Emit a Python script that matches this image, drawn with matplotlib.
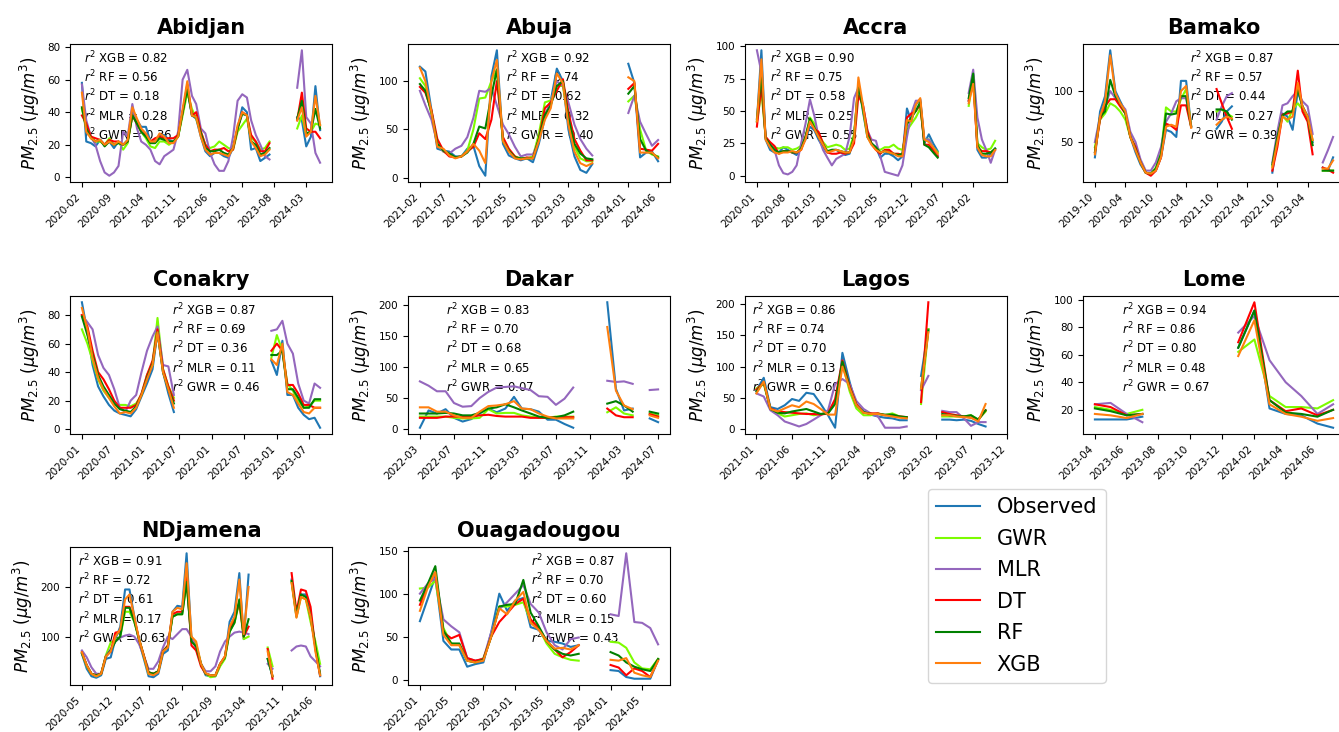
import numpy as np
import pandas as pd
import matplotlib
matplotlib.use("Agg")
import matplotlib.pyplot as plt
from matplotlib.ticker import MaxNLocator

nan = np.nan

# ---------------- data (monthly PM2.5, nan = no data) ----------------
ABIDJAN_START = "2020-02"
ABIDJAN_OBS = [58, 22, 21, 19, 23, 20, 22, 18, 22, 20, 23, 40, 35, 31, 31, 22, 22, 26, 26, 23,
               22, 25, 40, 55, 38, 36, 25, 16, 13, 15, 15, 13, 12, 18, 30, 43, 40, 17, 18, 10,
               12, 14] + [nan] * 5 + [37, 35, 19, 25, 56, 29]
ABIDJAN_GWR = [42, 30, 25, 22, 22, 20, 24, 20, 22, 17, 21, 38, 35, 28, 24, 19, 18, 22, 22, 20,
               22, 25, 38, 52, 42, 36, 28, 20, 18, 19, 22, 20, 18, 17, 28, 32, 36, 24, 22, 17,
               18, 22] + [nan] * 5 + [30, 38, 26, 28, 33, 32]
ABIDJAN_MLR = [57, 35, 25, 20, 10, 3, 1, 3, 7, 28, 25, 45, 30, 22, 20, 17, 10, 8, 13, 15,
               17, 28, 60, 66, 50, 45, 30, 27, 15, 8, 4, 4, 10, 25, 47, 51, 49, 35, 26, 20,
               13, 11] + [nan] * 5 + [55, 78, 37, 33, 15, 9]
ABIDJAN_DT = [38, 33, 25, 24, 23, 20, 23, 22, 22, 20, 22, 38, 33, 28, 26, 22, 24, 25, 24, 24,
              24, 26, 40, 57, 38, 40, 28, 20, 16, 17, 17, 18, 16, 17, 30, 40, 38, 26, 22, 16,
              16, 21] + [nan] * 5 + [35, 52, 30, 28, 28, 24]
ABIDJAN_RF = [43, 30, 24, 22, 23, 19, 22, 20, 21, 20, 22, 38, 33, 28, 25, 21, 21, 24, 23, 22,
              22, 25, 40, 54, 38, 37, 27, 18, 16, 16, 17, 15, 14, 18, 30, 39, 38, 22, 20, 14,
              15, 18] + [nan] * 5 + [36, 47, 27, 28, 42, 30]
ABIDJAN_XGB = [52, 28, 24, 22, 23, 20, 22, 20, 22, 20, 23, 43, 36, 30, 27, 22, 22, 27, 25, 21,
               21, 25, 42, 59, 38, 37, 25, 17, 14, 15, 15, 14, 13, 18, 32, 40, 38, 22, 18, 13,
               14, 17] + [nan] * 5 + [35, 43, 25, 28, 50, 32]

ABUJA_START = "2021-02"
ABUJA_OBS = [115, 110, 70, 30, 28, 27, 22, 22, 30, 33, 12, 2, 105, 132, 35, 23, 20, 18, 20, 16,
             35, 62, 80, 113, 100, 50, 22, 8, 5, 14] + [nan] * 5 + [118, 98, 21, 26, 27, 17]
ABUJA_GWR = [103, 95, 65, 35, 27, 24, 21, 22, 28, 50, 82, 83, 100, 112, 38, 28, 22, 20, 20, 22,
             45, 78, 80, 95, 95, 60, 32, 20, 17, 17] + [nan] * 5 + [79, 85, 50, 28, 24, 22]
ABUJA_MLR = [90, 75, 60, 35, 27, 25, 30, 33, 42, 62, 90, 89, 93, 75, 55, 45, 32, 22, 24, 24,
             38, 65, 78, 100, 95, 78, 55, 40, 30, 23] + [nan] * 5 + [67, 85, 58, 45, 33, 39]
ABUJA_DT = [94, 88, 70, 40, 28, 22, 21, 22, 27, 32, 46, 40, 60, 100, 42, 30, 22, 19, 21, 20,
            40, 72, 78, 90, 102, 68, 40, 28, 18, 18] + [nan] * 5 + [92, 98, 30, 29, 28, 35]
ABUJA_RF = [97, 90, 68, 35, 28, 25, 21, 22, 26, 35, 53, 51, 85, 112, 38, 28, 21, 20, 20, 20,
            40, 65, 75, 95, 100, 62, 35, 25, 20, 19] + [nan] * 5 + [87, 95, 40, 28, 25, 21]
ABUJA_XGB = [114, 100, 68, 32, 30, 23, 20, 22, 27, 35, 28, 15, 100, 122, 38, 27, 20, 19, 20, 20,
             38, 60, 72, 108, 98, 55, 27, 15, 12, 15] + [nan] * 5 + [104, 100, 26, 26, 26, 20]

ACCRA_START = "2020-01"
ACCRA_OBS = [42, 97, 28, 20, 18, 18, 22, 20, 18, 16, 22, 28, 38, 35, 28, 22, 18, 20, 20, 18,
             16, 17, 30, 72, 50, 30, 25, 22, 14, 17, 17, 15, 12, 15, 52, 42, 55, 59, 25, 32,
             25, 19] + [nan] * 6 + [58, 78, 20, 14, 14, 17, 21]
ACCRA_GWR = [42, 65, 30, 23, 22, 21, 22, 22, 20, 21, 23, 30, 45, 40, 32, 26, 22, 23, 24, 23,
             20, 21, 32, 70, 52, 30, 25, 21, 20, 22, 22, 24, 21, 20, 35, 40, 45, 52, 28, 28,
             22, 18] + [nan] * 6 + [54, 77, 25, 22, 20, 21, 27]
ACCRA_MLR = [97, 80, 30, 25, 20, 8, 2, 1, 3, 8, 25, 40, 59, 46, 30, 20, 14, 8, 13, 15,
             17, 30, 60, 68, 55, 35, 28, 27, 15, 3, 2, 1, 0, 8, 30, 48, 58, 58, 28, 28,
             22, 16] + [nan] * 6 + [64, 82, 45, 28, 20, 10, 20]
ACCRA_DT = [38, 70, 30, 26, 23, 17, 19, 19, 18, 18, 20, 30, 42, 36, 34, 25, 18, 17, 17, 18,
            17, 18, 25, 62, 55, 35, 25, 20, 17, 20, 20, 17, 17, 16, 45, 48, 50, 55, 24, 24,
            20, 15] + [nan] * 6 + [58, 74, 22, 19, 19, 18, 20]
ACCRA_RF = [44, 78, 29, 24, 20, 18, 19, 19, 18, 18, 21, 30, 44, 37, 30, 24, 19, 20, 20, 19,
            18, 18, 30, 70, 52, 32, 25, 22, 18, 19, 18, 17, 16, 17, 40, 45, 50, 57, 24, 22,
            18, 14] + [nan] * 6 + [60, 79, 24, 17, 17, 18, 21]
ACCRA_XGB = [42, 90, 28, 22, 18, 17, 18, 18, 19, 18, 20, 28, 42, 36, 30, 24, 18, 19, 20, 19,
             18, 18, 28, 76, 55, 30, 24, 20, 18, 19, 18, 17, 15, 15, 43, 42, 55, 60, 28, 26,
             22, 17] + [nan] * 6 + [56, 71, 22, 16, 15, 15, 20]

BAMAKO_START = "2019-10"
BAMAKO_OBS = ([35, 80, 95, 140, 100, 90, 80, 55, 40, 28, 20, 18, 22, 35, 62, 60, 55, 110, 110, 66]
              + [nan] * 4 + [63, 70, 80, 85] + [nan] * 7
              + [20, 55, 78, 75, 62, 100, 85, 75, 50] + [nan] + [25, 22, 35])
BAMAKO_GWR = ([45, 72, 78, 88, 85, 80, 72, 55, 45, 30, 20, 19, 25, 40, 84, 80, 80, 92, 102, 66]
              + [nan] * 4 + [80, 82, 78, 75] + [nan] * 7
              + [26, 55, 76, 70, 82, 88, 82, 72, 52] + [nan] + [22, 22, 22])
BAMAKO_MLR = ([50, 75, 85, 100, 93, 88, 82, 60, 50, 33, 22, 22, 30, 45, 70, 78, 90, 93, 93, 66]
              + [nan] * 4 + [72, 85, 95, 98] + [nan] * 7
              + [30, 60, 86, 88, 95, 100, 90, 85, 58] + [nan] + [30, 42, 55])
BAMAKO_DT = ([40, 72, 85, 92, 92, 85, 78, 55, 45, 30, 20, 17, 22, 35, 68, 66, 62, 86, 86, 65]
             + [nan] * 4 + [102, 88, 75, 63] + [nan] * 7
             + [22, 45, 77, 78, 80, 120, 80, 70, 38] + [nan] + [25, 23, 20])
BAMAKO_RF = ([40, 75, 80, 111, 95, 88, 78, 55, 43, 30, 20, 19, 24, 38, 78, 77, 78, 95, 95, 65]
             + [nan] * 4 + [82, 82, 80, 72] + [nan] * 7
             + [28, 55, 76, 80, 80, 102, 85, 75, 47] + [nan] + [22, 22, 22])
BAMAKO_XGB = ([38, 75, 90, 135, 98, 88, 80, 55, 42, 30, 20, 19, 22, 35, 65, 67, 65, 100, 105, 64]
              + [nan] * 4 + [67, 72, 75, 73] + [nan] * 7
              + [25, 50, 75, 72, 75, 108, 85, 75, 52] + [nan] + [24, 24, 32])

CONAKRY_START = "2020-01"
CONAKRY_OBS = ([89, 68, 45, 30, 23, 17, 13, 11, 10, 9, 14, 23, 32, 42, 68, 40, 25, 12]
               + [nan] * 17 + [48, 38, 62, 24, 24, 15, 10, 7, 8, 1])
CONAKRY_GWR = ([70, 60, 48, 35, 27, 22, 17, 17, 17, 16, 18, 24, 38, 45, 78, 42, 30, 22]
               + [nan] * 17 + [50, 66, 55, 32, 27, 20, 15, 16, 20, 20])
CONAKRY_MLR = ([80, 75, 70, 52, 43, 38, 28, 15, 12, 20, 24, 40, 55, 65, 72, 45, 44, 24]
               + [nan] * 17 + [69, 70, 76, 60, 53, 32, 20, 18, 32, 29])
CONAKRY_DT = ([80, 72, 55, 40, 35, 28, 20, 15, 15, 15, 17, 25, 38, 48, 70, 42, 30, 20]
              + [nan] * 17 + [55, 60, 55, 31, 31, 25, 17, 17, 15, 15])
CONAKRY_RF = ([79, 66, 52, 38, 30, 24, 18, 14, 13, 12, 16, 24, 36, 46, 68, 40, 28, 18]
              + [nan] * 17 + [52, 52, 55, 28, 28, 22, 15, 15, 21, 21])
CONAKRY_XGB = ([85, 70, 50, 36, 28, 22, 16, 11, 12, 11, 15, 24, 35, 45, 68, 40, 28, 15]
               + [nan] * 17 + [49, 45, 60, 26, 24, 18, 12, 11, 15, 15])

DAKAR_START = "2022-03"
DAKAR_OBS = ([2, 30, 25, 32, 18, 12, 16, 25, 33, 27, 33, 52, 33, 32, 28, 15, 15, 8, 2]
             + [nan] * 3 + [205, 65, 30, 33] + [nan] + [17, 11])
DAKAR_GWR = ([20, 20, 20, 20, 18, 17, 17, 18, 32, 25, 26, 26, 22, 20, 18, 18, 20, 20, 20]
             + [nan] * 3 + [27, 35, 25, 22] + [nan] + [25, 22])
DAKAR_MLR = ([77, 70, 61, 61, 42, 36, 37, 50, 60, 67, 68, 69, 66, 63, 53, 52, 39, 49, 67]
             + [nan] * 3 + [78, 76, 77, 73] + [nan] + [63, 64])
DAKAR_DT = ([18, 18, 18, 20, 20, 20, 20, 22, 23, 21, 20, 20, 20, 18, 18, 18, 19, 19, 19]
            + [nan] * 3 + [33, 22, 19, 19] + [nan] + [24, 20])
DAKAR_RF = ([25, 25, 25, 26, 25, 22, 22, 26, 33, 35, 40, 35, 30, 25, 20, 18, 19, 22, 28]
            + [nan] * 3 + [41, 45, 38, 28] + [nan] + [28, 25])
DAKAR_XGB = ([35, 35, 28, 28, 22, 18, 18, 28, 37, 38, 40, 45, 33, 32, 25, 20, 17, 17, 17]
             + [nan] * 3 + [165, 62, 38, 32] + [nan] + [22, 18])

LAGOS_START = "2021-01"
LAGOS_OBS = ([62, 82, 35, 32, 38, 48, 45, 58, 56, 40, 22, 2, 122, 75, 38, 28, 23, 20, 18, 17, 14, 14]
             + [nan] + [85, 160] + [nan] + [15, 15, 14, 15, 13, 8, 4] + [nan] * 4)
LAGOS_GWR = ([65, 72, 33, 25, 20, 22, 24, 25, 22, 24, 26, 42, 105, 60, 33, 22, 22, 25, 22, 25, 20, 18]
             + [nan] + [40, 160] + [nan] + [20, 20, 20, 20, 22, 15, 28] + [nan] * 4)
LAGOS_MLR = ([57, 52, 30, 22, 12, 8, 4, 8, 15, 22, 30, 72, 80, 72, 45, 32, 25, 20, 2, 2, 2, 4]
             + [nan] + [62, 85] + [nan] + [29, 27, 27, 17, 5, 11, 11] + [nan] * 4)
LAGOS_DT = ([63, 75, 33, 28, 27, 26, 25, 24, 24, 23, 25, 48, 110, 68, 40, 26, 25, 25, 22, 22, 20, 19]
            + [nan] + [43, 203] + [nan] + [27, 24, 22, 20, 18, 15, 30] + [nan] * 4)
LAGOS_RF = ([60, 75, 32, 26, 25, 28, 30, 32, 28, 24, 25, 40, 108, 66, 38, 27, 24, 24, 23, 23, 20, 19]
            + [nan] + [65, 158] + [nan] + [24, 22, 21, 20, 22, 15, 30] + [nan] * 4)
LAGOS_XGB = ([57, 76, 32, 28, 33, 38, 35, 44, 40, 32, 23, 23, 100, 65, 38, 26, 24, 24, 22, 20, 18, 17]
             + [nan] + [65, 155] + [nan] + [22, 22, 20, 19, 18, 12, 40] + [nan] * 4)

LOME_START = "2023-04"
LOME_OBS = [13, 13, 13, 15] + [nan] * 5 + [65, 92, 21, 17, 16, 10, 7]
LOME_GWR = [22, 20, 17, 20] + [nan] * 5 + [62, 71, 30, 22, 22, 21, 27]
LOME_MLR = [24, 25, 17, 11] + [nan] * 5 + [76, 88, 56, 40, 30, 17, 24]
LOME_DT = [24, 22, 16, 17] + [nan] * 5 + [69, 98, 27, 19, 21, 16, 20]
LOME_RF = [21, 19, 16, 17] + [nan] * 5 + [65, 92, 27, 18, 17, 15, 20]
LOME_XGB = [17, 16, 14, 17] + [nan] * 5 + [59, 85, 24, 17, 15, 12, 14]

NDJAMENA_START = "2020-05"
NDJAMENA_OBS = ([65, 35, 20, 17, 22, 55, 58, 95, 120, 195, 195, 140, 90, 55, 20, 18, 25, 65,
                 72, 150, 162, 160, 268, 95, 80, 45, 22, 20, 20, 42, 58, 130, 150, 228, 95, 225]
                + [nan] * 3 + [55, 20] + [nan] * 3 + [215, 140, 185, 185, 145, 80, 20])
NDJAMENA_GWR = ([68, 40, 25, 20, 25, 62, 88, 92, 100, 150, 150, 130, 95, 60, 25, 25, 30, 72,
                 80, 140, 145, 145, 210, 95, 85, 45, 25, 18, 20, 40, 55, 110, 128, 170, 95, 100]
                + [nan] * 3 + [78, 40] + [nan] * 3 + [210, 140, 180, 175, 130, 90, 45])
NDJAMENA_MLR = ([72, 58, 38, 25, 25, 60, 75, 90, 98, 102, 104, 100, 85, 60, 35, 35, 50, 78,
                 100, 95, 105, 115, 115, 100, 75, 45, 30, 30, 40, 70, 90, 100, 108, 110, 108, 105]
                + [nan] * 3 + [45, 35] + [nan] * 3 + [72, 80, 82, 80, 60, 50, 40])
NDJAMENA_DT = ([68, 42, 25, 22, 25, 60, 70, 108, 110, 160, 160, 135, 95, 62, 28, 25, 30, 70,
                82, 145, 150, 150, 220, 82, 72, 40, 25, 22, 22, 45, 60, 115, 135, 170, 100, 120]
               + [nan] * 3 + [75, 15] + [nan] * 3 + [228, 150, 195, 192, 160, 75, 22])
NDJAMENA_RF = ([66, 42, 25, 22, 25, 60, 72, 90, 100, 158, 158, 130, 95, 60, 28, 25, 30, 70,
                80, 140, 145, 145, 210, 90, 80, 45, 25, 22, 22, 45, 58, 110, 128, 175, 100, 135]
               + [nan] * 3 + [55, 20] + [nan] * 3 + [212, 145, 185, 180, 140, 80, 25])
NDJAMENA_XGB = ([68, 42, 25, 20, 25, 60, 70, 100, 115, 175, 185, 140, 95, 60, 25, 22, 28, 70,
                 78, 150, 158, 155, 248, 100, 90, 45, 26, 22, 22, 45, 60, 120, 140, 215, 105, 200]
                + [nan] * 3 + [70, 20] + [nan] * 3 + [208, 138, 180, 175, 140, 70, 22])

OUAGA_START = "2022-01"
OUAGA_OBS = ([68, 95, 120, 45, 35, 35, 15, 18, 20, 55, 100, 80, 92, 95, 61, 58, 45, 44, 42, 38, 40]
             + [nan] * 3 + [11, 10, 3, 1, 1, 1, 23])
OUAGA_GWR = ([106, 107, 115, 60, 42, 40, 22, 20, 25, 50, 85, 85, 87, 90, 68, 60, 42, 30, 26, 23, 22]
             + [nan] * 3 + [44, 43, 37, 20, 13, 12, 24])
OUAGA_MLR = ([100, 112, 118, 70, 62, 55, 25, 22, 24, 55, 82, 90, 100, 110, 88, 78, 55, 40, 35, 47, 49]
             + [nan] * 3 + [76, 74, 147, 67, 66, 60, 41])
OUAGA_DT = ([87, 110, 125, 55, 48, 52, 25, 22, 24, 50, 67, 77, 88, 94, 70, 60, 45, 35, 26, 32, 40]
            + [nan] * 3 + [17, 14, 5, 13, 10, 3, 23])
OUAGA_RF = ([92, 112, 132, 57, 42, 42, 22, 20, 23, 50, 85, 87, 88, 116, 78, 62, 45, 35, 30, 28, 30]
            + [nan] * 3 + [32, 28, 20, 15, 12, 10, 24])
OUAGA_XGB = ([80, 108, 125, 52, 40, 40, 22, 20, 22, 50, 83, 76, 92, 102, 66, 58, 45, 36, 37, 35, 40]
             + [nan] * 3 + [23, 22, 25, 8, 5, 3, 22])

# r2 scores in order XGB, RF, DT, MLR, GWR
R2 = {
    "Abidjan": [0.82, 0.56, 0.18, 0.28, 0.36],
    "Abuja": [0.92, 0.74, 0.62, 0.32, 0.40],
    "Accra": [0.90, 0.75, 0.58, 0.25, 0.55],
    "Bamako": [0.87, 0.57, 0.44, 0.27, 0.39],
    "Conakry": [0.87, 0.69, 0.36, 0.11, 0.46],
    "Dakar": [0.83, 0.70, 0.68, 0.65, 0.07],
    "Lagos": [0.86, 0.74, 0.70, 0.13, 0.60],
    "Lome": [0.94, 0.86, 0.80, 0.48, 0.67],
    "NDjamena": [0.91, 0.72, 0.61, 0.17, 0.63],
    "Ouagadougou": [0.87, 0.70, 0.60, 0.15, 0.43],
}

cities = [
    ("Abidjan", ABIDJAN_START, [ABIDJAN_OBS, ABIDJAN_GWR, ABIDJAN_MLR, ABIDJAN_DT, ABIDJAN_RF, ABIDJAN_XGB]),
    ("Abuja", ABUJA_START, [ABUJA_OBS, ABUJA_GWR, ABUJA_MLR, ABUJA_DT, ABUJA_RF, ABUJA_XGB]),
    ("Accra", ACCRA_START, [ACCRA_OBS, ACCRA_GWR, ACCRA_MLR, ACCRA_DT, ACCRA_RF, ACCRA_XGB]),
    ("Bamako", BAMAKO_START, [BAMAKO_OBS, BAMAKO_GWR, BAMAKO_MLR, BAMAKO_DT, BAMAKO_RF, BAMAKO_XGB]),
    ("Conakry", CONAKRY_START, [CONAKRY_OBS, CONAKRY_GWR, CONAKRY_MLR, CONAKRY_DT, CONAKRY_RF, CONAKRY_XGB]),
    ("Dakar", DAKAR_START, [DAKAR_OBS, DAKAR_GWR, DAKAR_MLR, DAKAR_DT, DAKAR_RF, DAKAR_XGB]),
    ("Lagos", LAGOS_START, [LAGOS_OBS, LAGOS_GWR, LAGOS_MLR, LAGOS_DT, LAGOS_RF, LAGOS_XGB]),
    ("Lome", LOME_START, [LOME_OBS, LOME_GWR, LOME_MLR, LOME_DT, LOME_RF, LOME_XGB]),
    ("NDjamena", NDJAMENA_START, [NDJAMENA_OBS, NDJAMENA_GWR, NDJAMENA_MLR, NDJAMENA_DT, NDJAMENA_RF, NDJAMENA_XGB]),
    ("Ouagadougou", OUAGA_START, [OUAGA_OBS, OUAGA_GWR, OUAGA_MLR, OUAGA_DT, OUAGA_RF, OUAGA_XGB]),
]

series_names = ["Observed", "GWR", "MLR", "DT", "RF", "XGB"]
series_colors = ["#1f77b4", "lawngreen", "#9467bd", "red", "green", "#ff7f0e"]

# layout: tick step (months), x of the r2 text (axes fraction), y tick density
tick_step = {"Abidjan": 7, "Abuja": 5, "Accra": 7, "Bamako": 6, "Conakry": 6,
             "Dakar": 4, "Lagos": 5, "Lome": 2, "NDjamena": 7, "Ouagadougou": 4}
text_x = {"Abidjan": 0.055, "Abuja": 0.375, "Accra": 0.095, "Bamako": 0.41, "Conakry": 0.39,
          "Dakar": 0.145, "Lagos": 0.025, "Lome": 0.15, "NDjamena": 0.03, "Ouagadougou": 0.47}
y_bins = {"Lome": 6}

W, H = 1339, 732
fig = plt.figure(figsize=(W / 100, H / 100), dpi=100)
lefts = [70, 408, 745, 1083]
tops = [44, 296, 547]
aw, ah = 262, 138

axes = []
for k, (city, start, values) in enumerate(cities):
    r, c = divmod(k, 4)
    ax = fig.add_axes([lefts[c] / W, 1 - (tops[r] + ah) / H, aw / W, ah / H])
    axes.append(ax)
    dates = pd.date_range(start, periods=len(values[0]), freq="MS")
    for name, col, vals in zip(series_names, series_colors, values):
        ax.plot(dates, vals, color=col, lw=1.5, label=name)
    ticks = dates[::tick_step[city]]
    ax.set_xticks(ticks)
    ax.set_xticklabels([d.strftime("%Y-%m") for d in ticks], rotation=45, ha="right", fontsize=7.5)
    ax.yaxis.set_major_locator(MaxNLocator(nbins=y_bins.get(city, 5), steps=[1, 2, 2.5, 5, 10]))
    ax.tick_params(axis="y", labelsize=7.5)
    ax.set_title(city, fontsize=15, fontweight="bold", pad=7)
    ax.set_ylabel(r"$PM_{2.5}$ ($\mu g/m^3$)", fontsize=12)
    sc = R2[city]
    txt = "\n".join([r"$r^2$ XGB = %.2f" % sc[0], r"$r^2$ RF = %.2f" % sc[1],
                     r"$r^2$ DT = %.2f" % sc[2], r"$r^2$ MLR = %.2f" % sc[3],
                     r"$r^2$ GWR = %.2f" % sc[4]])
    ax.text(text_x[city], 0.96, txt, transform=ax.transAxes, va="top", ha="left",
            fontsize=8.5, zorder=1)

handles, labels = axes[0].get_legend_handles_labels()
fig.legend(handles, labels, loc="upper left", bbox_to_anchor=(928 / W, 1 - 489 / H),
           fontsize=15, borderaxespad=0, labelspacing=0.55, handlelength=2.1)

fig.savefig("out.png", dpi=100)
